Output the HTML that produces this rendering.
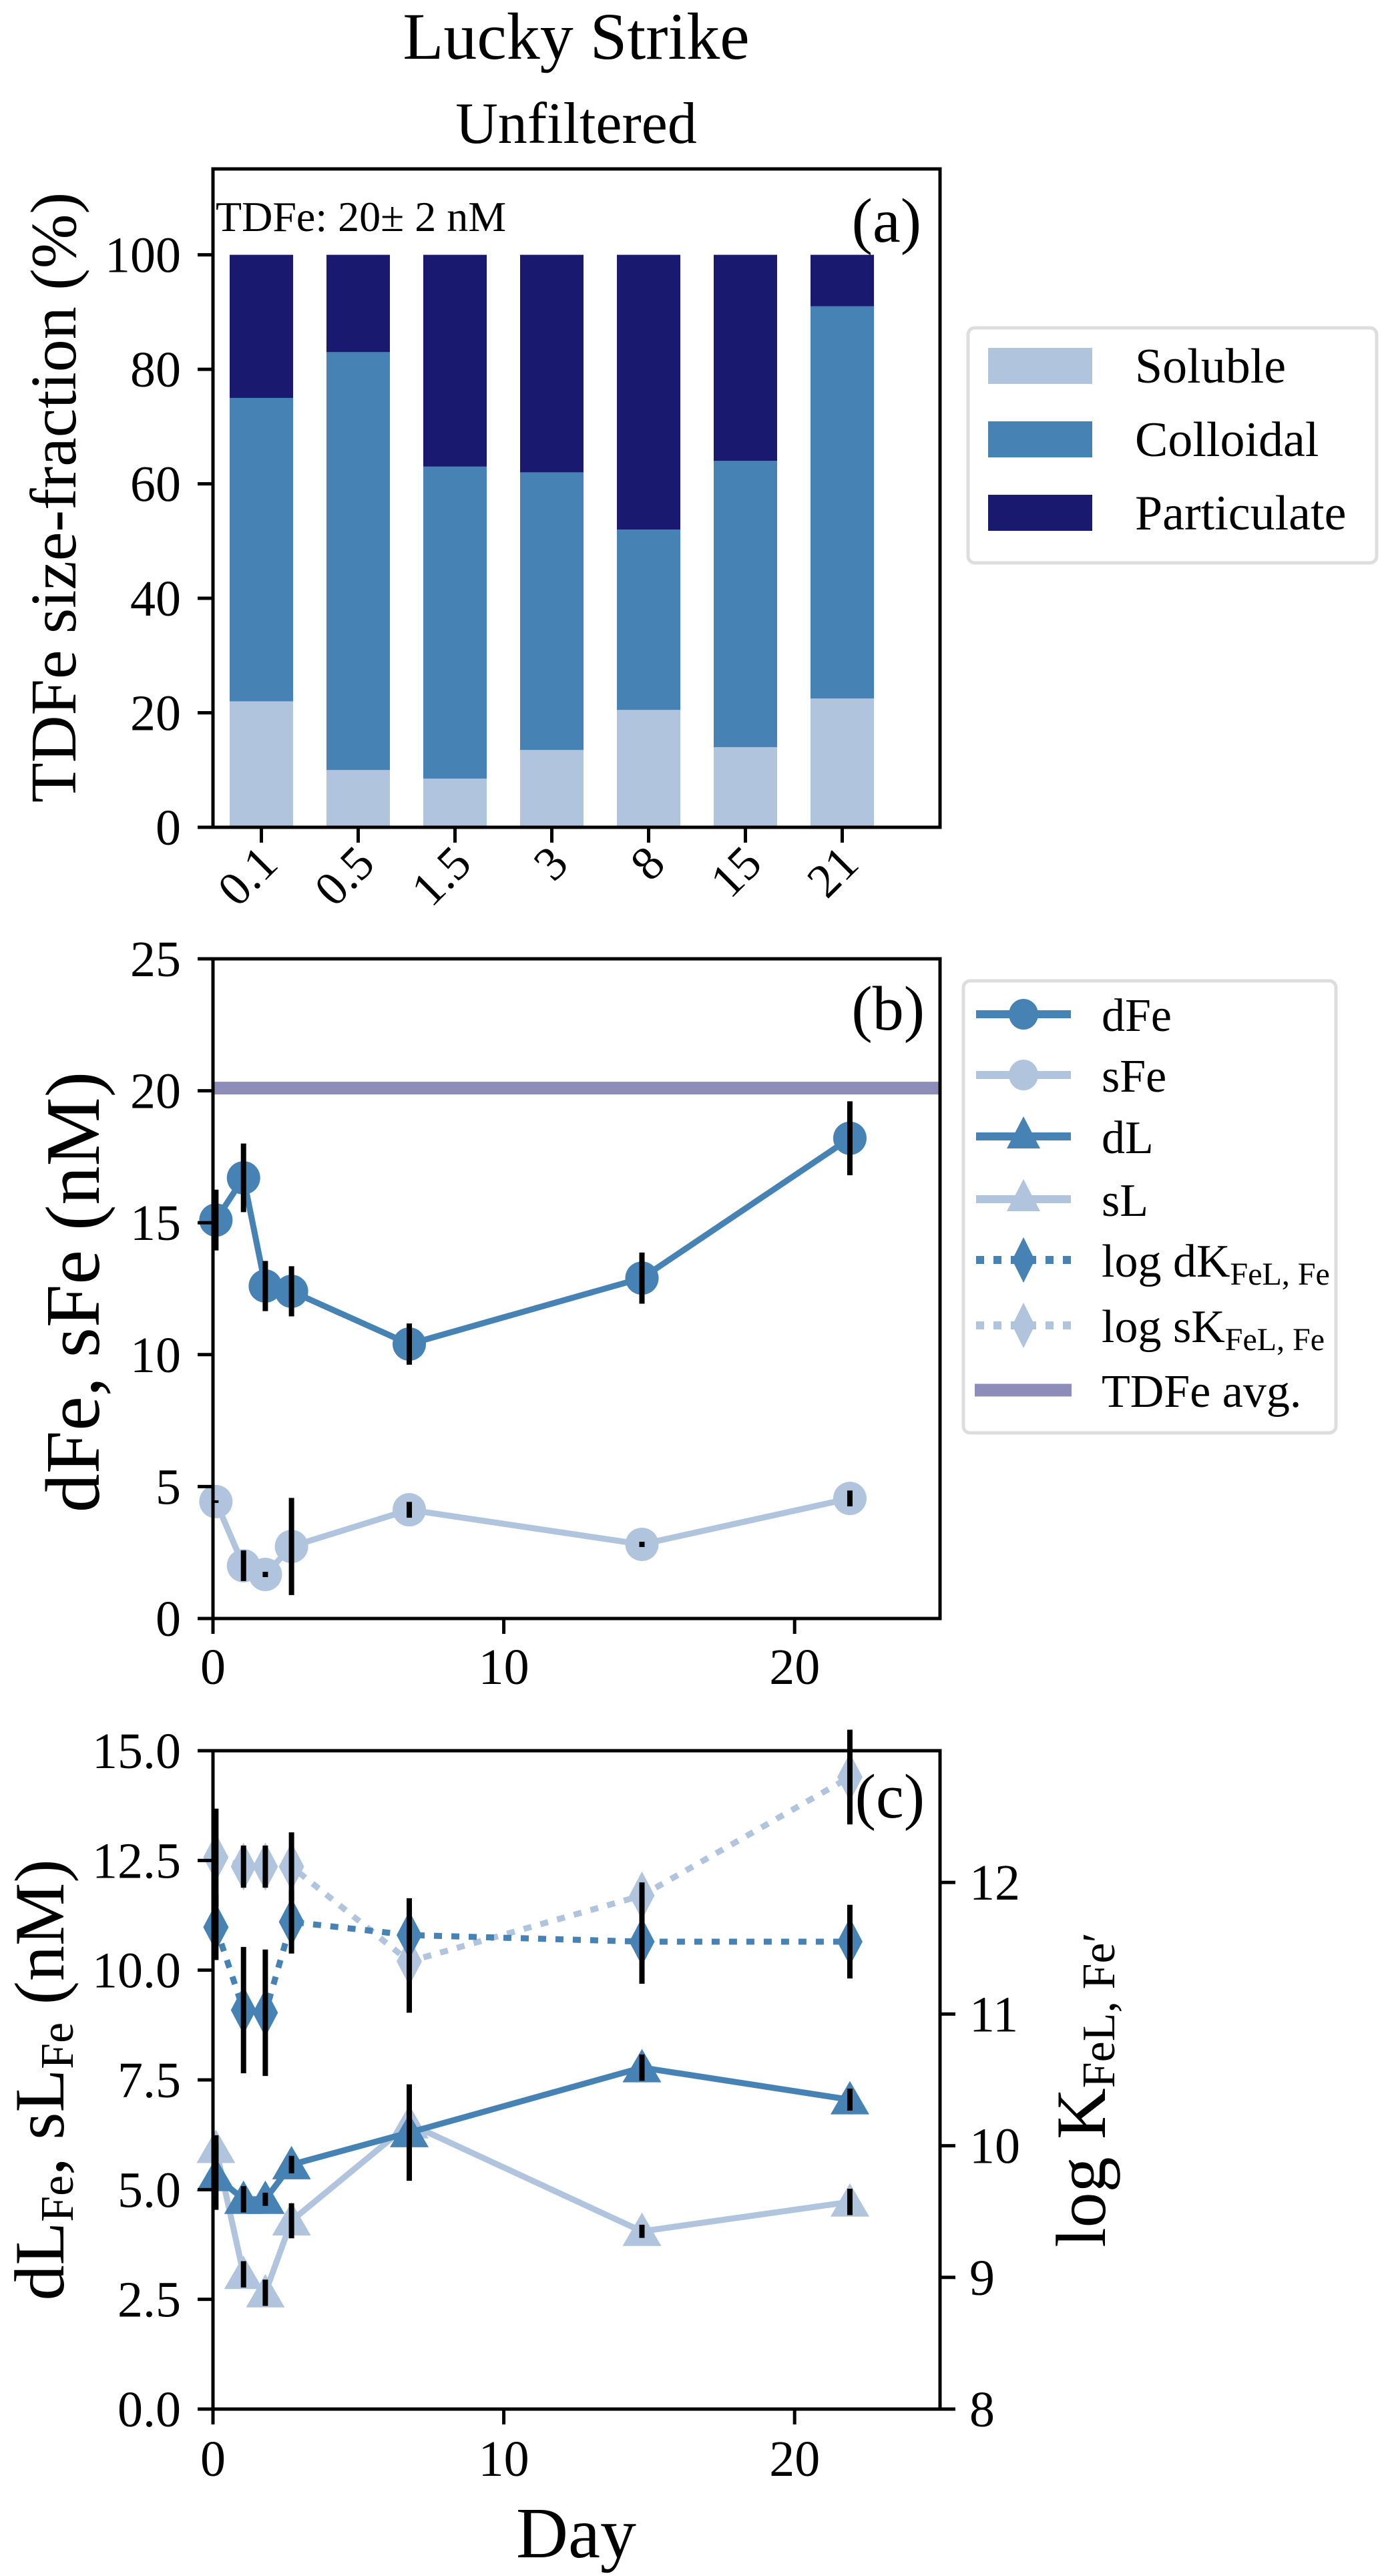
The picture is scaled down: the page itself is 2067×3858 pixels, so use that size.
<!DOCTYPE html>
<html><head><meta charset="utf-8">
<style>
html,body{margin:0;padding:0;background:#fff;}
svg{display:block;font-family:"Liberation Serif","DejaVu Serif",serif;}
</style></head>
<body>
<svg id="fig" width="2067" height="3858" viewBox="0 0 2067 3858" xmlns="http://www.w3.org/2000/svg">
<text x="863" y="88" font-size="100" text-anchor="middle">Lucky Strike</text>
<text x="863" y="214" font-size="88" text-anchor="middle">Unfiltered</text>
<g id="pa"></g>
<g id="pb"></g>
<g id="pc"></g>
</svg>
<script>
// ---- Panel (a) data ----
const aCategories = ["0.1","0.5","1.5","3","8","15","21"];
const aSoluble = [22,10,8.5,13.5,20.5,14,22.5];
const aColloidalTop = [75,83,63,62,52,64,91];
const aTotal = [100,100,100,100,100,100,100];
const aYTicks = [0,20,40,60,80,100];
// ---- Panel (b) data ----
const bDays = [0.1,1.05,1.8,2.7,6.75,14.75,21.9];
const dFe = [15.1,16.7,12.6,12.4,10.4,12.9,18.2];
const dFeErr = [1.15,1.3,0.95,0.95,0.78,0.97,1.4];
const sFe = [4.43,2.0,1.67,2.73,4.12,2.81,4.55];
const sFeErr = [0.05,0.58,0.1,1.84,0.3,0.1,0.3];
const tdfeAvg = 20.1;
const bYTicks = [0,5,10,15,20,25];
const xTicks = [0,10,20];
// ---- Panel (c) data ----
const dL = [5.3,4.78,4.78,5.57,6.3,7.78,7.05];
const dLErr = [0.76,0.3,0.15,0.2,1.1,0.3,0.25];
const sL = [5.94,3.07,2.65,4.29,6.5,4.05,4.72];
const sLErr = [0.3,0.3,0.3,0.4,0.3,0.15,0.3];
const logdK = [11.66,11.03,11.01,11.7,11.6,11.55,11.55];
const logdKErr = [0.25,0.48,0.48,0.24,0.28,0.32,0.28];
const logsK = [12.19,12.12,12.12,12.12,11.4,11.9,12.8];
const logsKErr = [0.37,0.16,0.16,0.26,0.39,0.1,0.36];
const cYTicks = [0,2.5,5,7.5,10,12.5,15];
const cY2Ticks = [8,9,10,11,12];

const NS="http://www.w3.org/2000/svg";
const C1="#b0c4de",C2="#4682b4",C3="#191970";
function mk(parent,tag,attrs,text){const e=document.createElementNS(NS,tag);for(const k in attrs)e.setAttribute(k,attrs[k]);if(text!==undefined)e.textContent=text;parent.appendChild(e);return e;}

const L=319,R=1408;
const TF=76;
// ===== Panel a =====
const pa=document.getElementById('pa');
const aTop=253,aBot=1239;
const ay=v=>aBot-(v/115)*(aBot-aTop);
const ax=i=>L+(i+0.5)*145;
aCategories.forEach((c,i)=>{
  const x=ax(i)-47.5;
  let r=mk(pa,'rect',{x:x,y:ay(aSoluble[i]),width:95,height:ay(0)-ay(aSoluble[i]),fill:C1});
  
  
  r=mk(pa,'rect',{x:x,y:ay(aColloidalTop[i]),width:95,height:ay(aSoluble[i])-ay(aColloidalTop[i]),fill:C2});
  
  
  r=mk(pa,'rect',{x:x,y:ay(aTotal[i]),width:95,height:ay(aColloidalTop[i])-ay(aTotal[i]),fill:C3});
  
  
  mk(pa,'line',{x1:ax(i),x2:ax(i),y1:aBot,y2:aBot+23,stroke:'#000','stroke-width':5});
  const t=mk(pa,'text',{x:0,y:0,'font-size':72,'text-anchor':'end',transform:`translate(${ax(i)+28},${aBot+58}) rotate(-45)`},c);
  
  
});
aYTicks.forEach(v=>{
  mk(pa,'line',{x1:L-23,x2:L,y1:ay(v),y2:ay(v),stroke:'#000','stroke-width':5});
  const t=mk(pa,'text',{x:L-48,y:ay(v)+26,'font-size':TF,'text-anchor':'end'},String(v));
  
  
});
mk(pa,'rect',{x:L,y:aTop,width:R-L,height:aBot-aTop,fill:'none',stroke:'#000','stroke-width':5});
{let t=mk(pa,'text',{x:323,y:346,'font-size':64},'TDFe: 20± 2 nM');
t=mk(pa,'text',{x:1380,y:362,'font-size':94,'text-anchor':'end'},'(a)');
t=mk(pa,'text',{x:0,y:0,'font-size':98,'text-anchor':'middle',transform:'translate(113,745) rotate(-90)'},'TDFe size-fraction (%)');}
{const lg=mk(pa,'g',{});
mk(lg,'rect',{x:1450,y:491,width:612,height:352,rx:10,fill:'#fff',stroke:'#ddd','stroke-width':5});
[['Soluble',C1,548],['Colloidal',C2,658],['Particulate',C3,768]].forEach(e=>{
 mk(lg,'rect',{x:1480,y:e[2]-27,width:156,height:54,fill:e[1]});
 const t=mk(lg,'text',{x:1700,y:e[2]+25,'font-size':74},e[0]);});}

// ===== shared helpers =====
const xd=d=>L+d*(R-L)/25;
function errbars(g,xs,ys,es,yf){xs.forEach((d,i)=>{mk(g,'line',{x1:xd(d),x2:xd(d),y1:yf(ys[i]-es[i]),y2:yf(ys[i]+es[i]),stroke:'#000','stroke-width':8});});}
function polyline(g,xs,ys,yf,color,dash){const pts=xs.map((d,i)=>xd(d)+','+yf(ys[i])).join(' ');const a={points:pts,fill:'none',stroke:color,'stroke-width':9,'stroke-linejoin':'round'};if(dash)a['stroke-dasharray']=dash;return mk(g,'polyline',a);}
function circles(g,xs,ys,yf,color){xs.forEach((d,i)=>mk(g,'ellipse',{cx:xd(d),cy:yf(ys[i]),rx:25,ry:25,fill:color}));}
function tris(g,xs,ys,yf,color){xs.forEach((d,i)=>{const x=xd(d),y=yf(ys[i]);mk(g,'polygon',{points:`${x},${y-28} ${x-29},${y+22} ${x+29},${y+22}`,fill:color});});}
function diams(g,xs,ys,yf,color){xs.forEach((d,i)=>{const x=xd(d),y=yf(ys[i]);mk(g,'polygon',{points:`${x},${y-36} ${x+19},${y} ${x},${y+36} ${x-19},${y}`,fill:color});});}
function xAxis(g,bot,labY){xTicks.forEach(v=>{mk(g,'line',{x1:xd(v),x2:xd(v),y1:bot,y2:bot+23,stroke:'#000','stroke-width':5});const t=mk(g,'text',{x:xd(v),y:labY,'font-size':TF,'text-anchor':'middle'},String(v));});}

// ===== Panel b =====
const pb=document.getElementById('pb');
const bTop=1436,bBot=2424;
const by=v=>bBot-v*(bBot-bTop)/25;
{const a=mk(pb,'line',{x1:L,x2:R,y1:by(tdfeAvg),y2:by(tdfeAvg),stroke:'#8e8cb8','stroke-width':19});}
{let g=mk(pb,'g',{});
polyline(g,bDays,dFe,by,C2);circles(g,bDays,dFe,by,C2);errbars(g,bDays,dFe,dFeErr,by);
g=mk(pb,'g',{});
polyline(g,bDays,sFe,by,C1);circles(g,bDays,sFe,by,C1);errbars(g,bDays,sFe,sFeErr,by);}
bYTicks.forEach(v=>{mk(pb,'line',{x1:L-23,x2:L,y1:by(v),y2:by(v),stroke:'#000','stroke-width':5});const t=mk(pb,'text',{x:L-48,y:by(v)+26,'font-size':TF,'text-anchor':'end'},String(v));});
xAxis(pb,bBot,2522);
mk(pb,'rect',{x:L,y:bTop,width:R-L,height:bBot-bTop,fill:'none',stroke:'#000','stroke-width':5});
{let t=mk(pb,'text',{x:1385,y:1542,'font-size':94,'text-anchor':'end'},'(b)');
t=mk(pb,'text',{x:0,y:0,'font-size':116,'text-anchor':'middle',transform:'translate(148,1935) rotate(-90)'},'dFe, sFe (nM)');}
{const lg=mk(pb,'g',{});
mk(lg,'rect',{x:1443,y:1469,width:558,height:677,rx:10,fill:'#fff',stroke:'#ddd','stroke-width':5});
const ents=[['dFe',C2,'c',null,1519],['sFe',C1,'c',null,1610],['dL',C2,'t',null,1702],['sL',C1,'t',null,1796],['log dK',C2,'d','12 14',1887],['log sK',C1,'d','12 14',1985],['TDFe avg.','#8e8cb8','n',null,2082]];
ents.forEach(e=>{const y=e[4],cx=1533;
 if(e[2]==='n'){mk(lg,'line',{x1:1460,x2:1605,y1:y,y2:y,stroke:e[1],'stroke-width':19});}
 else{const la={x1:1462,x2:1604,y1:y,y2:y,stroke:e[1],'stroke-width':12};if(e[3])la['stroke-dasharray']=e[3];mk(lg,'line',la);
  if(e[2]==='c')mk(lg,'ellipse',{cx:cx,cy:y,rx:22,ry:23,fill:e[1]});
  if(e[2]==='t')mk(lg,'polygon',{points:`${cx},${y-30} ${cx-25},${y+18} ${cx+25},${y+18}`,fill:e[1]});
  if(e[2]==='d')mk(lg,'polygon',{points:`${cx},${y-34} ${cx+17},${y} ${cx},${y+34} ${cx-17},${y}`,fill:e[1]});}
 const t=mk(lg,'text',{x:1650,y:y+25,'font-size':70},e[0]);
 if(e[0].startsWith('log'))mk(t,'tspan',{'font-size':48,dy:12},'FeL, Fe');
});}

// ===== Panel c =====
const pc=document.getElementById('pc');
const cTop=2622,cBot=3608;
const cy=v=>cBot-v*(cBot-cTop)/15;
const cy2=v=>cBot-(v-8)*(cBot-cTop)/5;
{let g=mk(pc,'g',{});
polyline(g,bDays,logsK,cy2,C1,'12 14');diams(g,bDays,logsK,cy2,C1);
g=mk(pc,'g',{});
polyline(g,bDays,logdK,cy2,C2,'12 14');diams(g,bDays,logdK,cy2,C2);
g=mk(pc,'g',{});
polyline(g,bDays,sL,cy,C1);tris(g,bDays,sL,cy,C1);
g=mk(pc,'g',{});
polyline(g,bDays,dL,cy,C2);tris(g,bDays,dL,cy,C2);
g=mk(pc,'g',{});
errbars(g,bDays,logsK,logsKErr,cy2);errbars(g,bDays,logdK,logdKErr,cy2);errbars(g,bDays,sL,sLErr,cy);errbars(g,bDays,dL,dLErr,cy);}
cYTicks.forEach(v=>{mk(pc,'line',{x1:L-23,x2:L,y1:cy(v),y2:cy(v),stroke:'#000','stroke-width':5});const t=mk(pc,'text',{x:L-48,y:cy(v)+26,'font-size':TF,'text-anchor':'end'},v.toFixed(1));});
cY2Ticks.forEach(v=>{mk(pc,'line',{x1:R,x2:R+23,y1:cy2(v),y2:cy2(v),stroke:'#000','stroke-width':5});const t=mk(pc,'text',{x:R+44,y:cy2(v)+26,'font-size':TF},String(v));});
xAxis(pc,cBot,3708);
mk(pc,'rect',{x:L,y:cTop,width:R-L,height:cBot-cTop,fill:'none',stroke:'#000','stroke-width':5});
{let t=mk(pc,'text',{x:1385,y:2722,'font-size':94,'text-anchor':'end'},'(c)');
t=mk(pc,'text',{x:863,y:3830,'font-size':108,'text-anchor':'middle'},'Day');
t=mk(pc,'text',{x:0,y:0,'font-size':106,'text-anchor':'middle',transform:'translate(95,3115) rotate(-90)'});
t.appendChild(document.createTextNode('dL'));mk(t,'tspan',{'font-size':70,dy:14},'Fe');mk(t,'tspan',{dy:-14},', sL');mk(t,'tspan',{'font-size':70,dy:14},'Fe');mk(t,'tspan',{dy:-14},' (nM)');
t=mk(pc,'text',{x:0,y:0,'font-size':106,'text-anchor':'middle',transform:'translate(1655,3130) rotate(-90)'});
t.appendChild(document.createTextNode('log K'));mk(t,'tspan',{'font-size':70,dy:14},'FeL, Fe′');}
</script>
</body></html>
